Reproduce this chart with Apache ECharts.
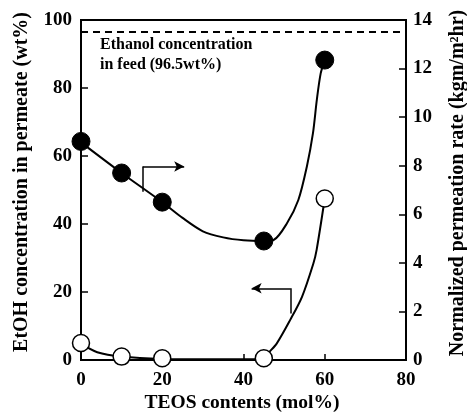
<!DOCTYPE html>
<html><head><meta charset="utf-8">
<script src="https://cdn.jsdelivr.net/npm/echarts@6/dist/echarts.min.js"></script>
<style>html,body{margin:0;padding:0;background:#fff}#c{width:467px;height:413px}</style>
</head><body><div id="c"></div>
<script>
// TEOS content (mol%)
var teos = [0, 10, 20, 45, 60];
// EtOH concentration in permeate (wt%) - open circles, left axis
var etohConc = [5, 1, 0.5, 0.5, 47.5];
// Normalized permeation rate (kg m/m2 hr) - filled circles, right axis
var permRate = [9.0, 7.7, 6.5, 4.9, 12.35];
// fitted curves
var rateCurveX = [0, 10, 20, 25, 30, 35, 40, 45, 47.4, 50.7, 53.5, 55.6, 57.1, 58.05, 59, 60];
var rateCurveY = [8.96, 7.7, 6.5, 5.85, 5.3, 5.05, 4.93, 4.9, 4.94, 5.63, 6.59, 7.97, 9.34, 10.71, 11.8, 12.35];
var concCurveX = [0, 4, 10, 20, 30, 45, 46.1, 48.2, 51.5, 54.4, 57.2, 58, 60];
var concCurveY = [4.8, 2.3, 1.0, 0.3, 0.2, 0.3, 2.0, 4.9, 11.8, 18.6, 28.4, 32.4, 47.5];
var feedConc = 96.5;
// arrow annotations (left-axis coordinates): start -> corner -> tip
var rateArrow = [[15.2, 49.5], [15.2, 56.9], [25.4, 56.9]];
var concArrow = [[51.6, 13.7], [51.6, 21.1], [42.0, 21.1]];

function zip(a, b) { return a.map(function (v, i) { return [v, b[i]]; }); }
function arrowLines(p) {
  return [
    [{ coord: p[0], symbol: 'none' }, { coord: p[1], symbol: 'none' }],
    [{ coord: p[1], symbol: 'none' }, { coord: p[2], symbol: 'arrow' }]
  ];
}
var FONT = '"Liberation Serif","DejaVu Serif",serif';
var chart = echarts.init(document.getElementById('c'));
var axisLbl = { color: '#000', fontFamily: FONT, fontWeight: 'bold', fontSize: 19 };
chart.setOption({
  animation: false,
  grid: { left: 81, right: 61, top: 20, bottom: 53, show: true, borderColor: '#000', borderWidth: 2 },
  xAxis: {
    type: 'value', min: 0, max: 80, interval: 20,
    axisLine: { lineStyle: { color: '#000', width: 2 } },
    axisTick: { inside: true, length: 6, lineStyle: { color: '#000', width: 1.5 } },
    axisLabel: Object.assign({ margin: 11 }, axisLbl),
    splitLine: { show: false }
  },
  yAxis: [{
    type: 'value', min: 0, max: 100, interval: 20,
    axisLine: { lineStyle: { color: '#000', width: 2 } },
    axisTick: { inside: true, length: 7, lineStyle: { color: '#000', width: 1.5 } },
    axisLabel: Object.assign({ margin: 9 }, axisLbl),
    splitLine: { show: false }
  }, {
    type: 'value', min: 0, max: 14, interval: 2, position: 'right',
    axisLine: { show: true, lineStyle: { color: '#000', width: 2 } },
    axisTick: { inside: true, length: 7, lineStyle: { color: '#000', width: 1.5 } },
    axisLabel: Object.assign({ margin: 7 }, axisLbl),
    splitLine: { show: false }
  }],
  series: [
    { type: 'line', yAxisIndex: 1, data: zip(rateCurveX, rateCurveY), smooth: 0.3, showSymbol: false, symbol: 'none',
      lineStyle: { color: '#000', width: 2 }, z: 2 },
    { type: 'line', yAxisIndex: 0, data: zip(concCurveX, concCurveY), smooth: 0.3, showSymbol: false, symbol: 'none',
      lineStyle: { color: '#000', width: 2 }, z: 2,
      markLine: { silent: true, symbol: 'none', label: { show: false },
        lineStyle: { color: '#000', type: [7, 5], width: 1.8 },
        data: [{ yAxis: feedConc }] } },
    { type: 'line', yAxisIndex: 0, data: [], z: 2,
      markLine: { silent: true, symbolSize: [8, 10], label: { show: false },
        lineStyle: { color: '#000', type: 'solid', width: 1.5 },
        data: arrowLines(rateArrow).concat(arrowLines(concArrow)) } },
    { type: 'scatter', yAxisIndex: 1, data: zip(teos, permRate), symbol: 'circle', symbolSize: 18,
      itemStyle: { color: '#000', borderColor: '#000', borderWidth: 1, opacity: 1 }, z: 5 },
    { type: 'scatter', yAxisIndex: 0, data: zip(teos, etohConc), symbol: 'circle', symbolSize: 17,
      itemStyle: { color: '#fff', borderColor: '#000', borderWidth: 1.5, opacity: 1 }, z: 5 }
  ],
  graphic: [
    { type: 'text', left: 100, top: 35, style: { text: 'Ethanol concentration\nin feed (96.5wt%)', fill: '#000',
      font: 'bold 16px ' + FONT, lineHeight: 20 } },
    { type: 'text', x: 22, y: 182, rotation: Math.PI / 2,
      style: { text: 'EtOH concentration in permeate (wt%)', fill: '#000', font: 'bold 20px ' + FONT, align: 'center', verticalAlign: 'middle' } },
    { type: 'text', x: 458, y: 183, rotation: Math.PI / 2,
      style: { text: 'Normalized permeation rate (kgm/m²hr)', fill: '#000', font: 'bold 20px ' + FONT, align: 'center', verticalAlign: 'middle' } },
    { type: 'text', x: 242, y: 403,
      style: { text: 'TEOS contents (mol%)', fill: '#000', font: 'bold 19.5px ' + FONT, align: 'center', verticalAlign: 'middle' } }
  ]
});
</script></body></html>
